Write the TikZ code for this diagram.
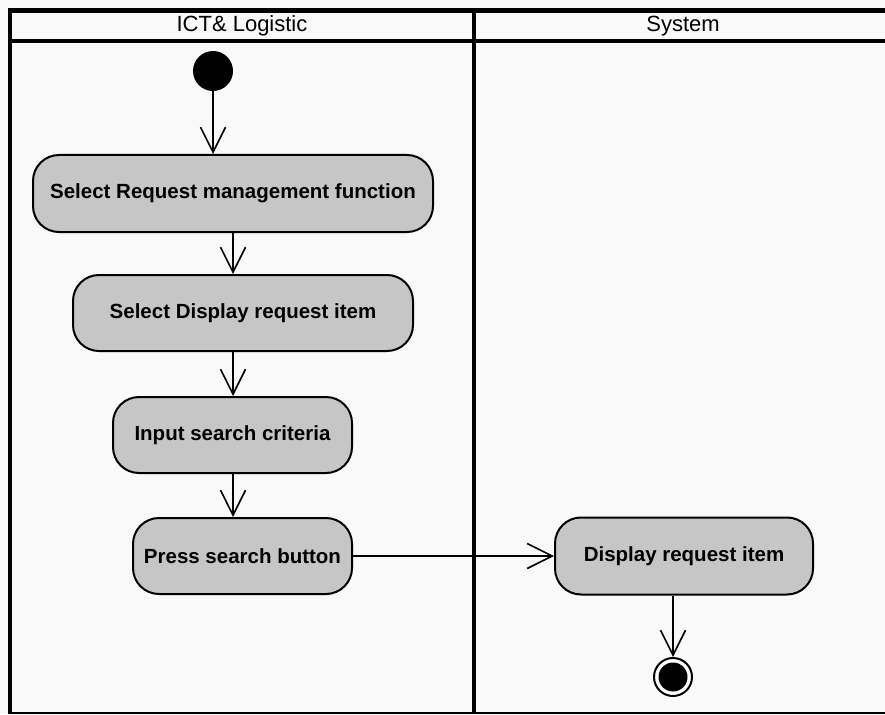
\documentclass[tikz,border=0pt]{standalone}
\usepackage{fontspec}
\setmainfont{Liberation Sans}
\usetikzlibrary{arrows.meta}
\definecolor{actgray}{RGB}{198,198,198}
\definecolor{paper}{RGB}{249,249,249}
\begin{document}
\begin{tikzpicture}[x=1pt,y=-1pt,
  action/.style={draw=black, line width=2pt, fill=actgray, rectangle,
    rounded corners=26pt, inner sep=0pt,
    font=\fontsize{20.5}{24}\selectfont\bfseries},
  flow/.style={line width=1.6pt,
    -{Straight Barb[length=25pt,width=25pt,line width=1.6pt]}},
  lane/.style={line width=4.5pt},
  lanehead/.style={font=\fontsize{22}{26}\selectfont, inner sep=0pt}]

% canvas
\fill[paper] (0,0) rectangle (885,714);
\useasboundingbox (0,0) rectangle (885,714);

% swimlane frame
\draw[lane] (10,10.5) -- (892,10.5);
\draw[lane] (10,41) -- (892,41);
\draw[lane] (10,8.5) -- (10,714);
\draw[lane] (474,8.5) -- (474,714);
\draw[line width=2pt] (10,713) -- (892,713);

\node[lanehead] (laneA) at (242,26) {ICT\& Logistic};
\node[lanehead] (laneB) at (683,26) {System};

% activity flow
\node[circle, fill=black, minimum size=40pt, inner sep=0pt] (start) at (213,71) {};

\node[action, minimum width=400pt, minimum height=77pt] (n1) at (233,193.5)
  {Select Request management function};
\node[action, minimum width=340pt, minimum height=76pt] (n2) at (243,313)
  {Select Display request item};
\node[action, minimum width=239pt, minimum height=76pt] (n3) at (232.5,435)
  {Input search criteria};
\node[action, minimum width=219pt, minimum height=76pt] (n4) at (242.5,556)
  {Press search button};
\node[action, minimum width=258pt, minimum height=77pt] (n5) at (684,556)
  {Display request item};

\node[circle, draw=black, fill=white, line width=2pt, minimum size=38pt, inner sep=0pt]
  (stop) at (673,677) {};
\node[circle, fill=black, minimum size=29pt, inner sep=0pt] (stopdot) at (stop.center) {};

\coordinate (axis) at (233,0);

\draw[flow] (start.south) -- (n1.north -| start);
\draw[flow] (n1.south -| axis) -- (n2.north -| axis);
\draw[flow] (n2.south -| axis) -- (n3.north -| axis);
\draw[flow] (n3.south -| axis) -- (n4.north -| axis);
\draw[flow] (n4.east) -- (n5.west);
\draw[flow] (n5.south -| stop) -- (stop.north);
\end{tikzpicture}
\end{document}
